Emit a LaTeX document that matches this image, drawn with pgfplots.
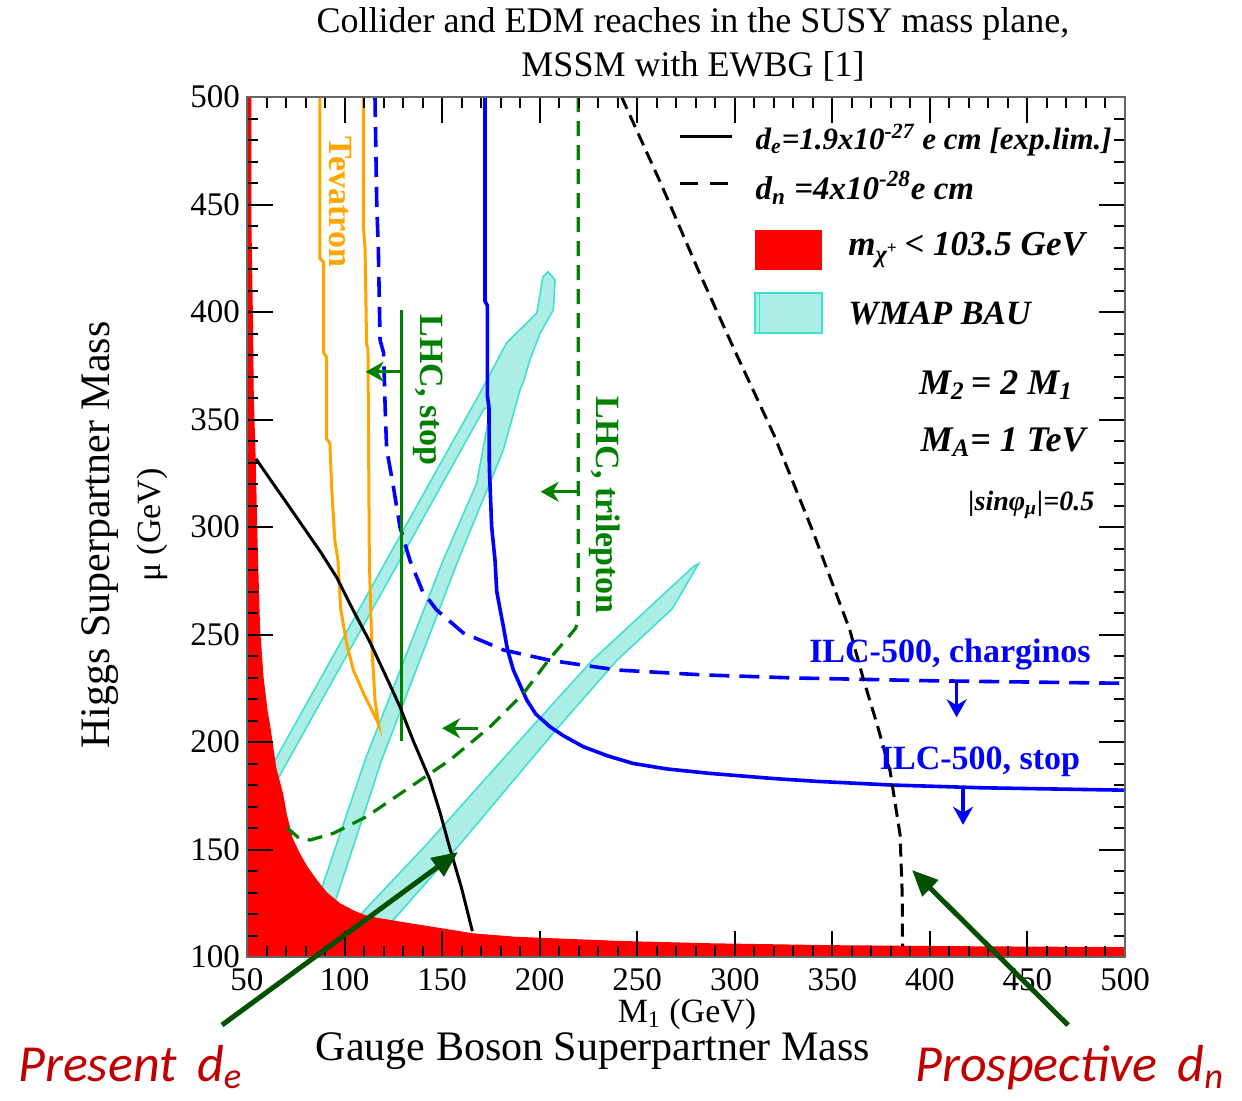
\documentclass[border=0pt]{standalone}
\usepackage{fontspec}
\setmainfont{Liberation Serif}
\newfontfamily\calibri{Carlito}
\usepackage{pgfplots}
\pgfplotsset{compat=1.18}
\usetikzlibrary{arrows.meta}

\definecolor{wmapfill}{RGB}{172,238,230}
\definecolor{wmapedge}{RGB}{64,224,208}
\definecolor{tevorange}{RGB}{255,165,0}
\definecolor{lhcgreen}{RGB}{0,128,0}
\definecolor{darkgreen}{RGB}{0,80,0}
\definecolor{txtred}{RGB}{192,0,0}
\definecolor{ilcblue}{RGB}{0,0,255}

\begin{document}
\begin{tikzpicture}
\path[use as bounding box] (-123.5pt,-71.5pt) rectangle (497.5pt,478.5pt);
\begin{axis}[
  at={(0pt,0pt)}, anchor=south west,
  scale only axis, width=439pt, height=430pt,
  xmin=50, xmax=500, ymin=100, ymax=500,
  xtick={50,100,...,500}, ytick={100,150,...,500},
  minor x tick num=4, minor y tick num=4,
  tick align=inside, major tick length=13pt, minor tick length=5.5pt,
  every tick/.style={black, line width=1pt},
  axis line style={draw=black!60, line width=1.2pt},
  ticklabel style={font=\fontsize{16.5}{18}\selectfont},
  xticklabel style={yshift=-2pt},
  /pgf/number format/assume math mode=true,
  axis on top=true,
  clip=false,
]
% WMAP BAU bands
\addplot[fill=wmapfill, draw=wmapedge, line width=0.8pt] coordinates {
 (51,170) (64.4,191.6) (121.6,284.7) (154,337.4) (169.4,362.3) (183,385.6) (198.5,399.5)
 (201.7,416.4) (204.3,418.7) (207.9,414.9) (207,401) (200.2,390) (195,377.7) (191.5,367)
 (190,364) (181.4,335.8) (158.3,284.7) (119,191.6) (96.6,129.6) (93,120) (84,120)
 (87.4,129.6) (110.5,191.6) (150.6,284.7) (167.7,320.3) (175,356) (171.5,355)
 (160.7,337.4) (128.4,284.7) (71.2,191.6) (58,170)} -- cycle;
\addplot[fill=wmapfill, draw=wmapedge, line width=0.8pt] coordinates {
 (104,116) (109.5,121) (142,152.3) (195,206) (227,238) (278.8,281.6) (281.5,283)
 (268,262) (239.6,238) (208.7,206) (159,152.3) (124.8,117) (118,112)} -- cycle;
% chargino mass exclusion
\addplot[fill=red, draw=none] coordinates {
 (50,100) (50,500) (52.3,500) (52.3,440) (53,400) (53.5,360) (54.5,330) (55.5,290)
 (56.7,253) (58.5,230) (60.5,215) (62,207) (65,188) (68.5,176) (70.5,166) (73.5,155)
 (77.2,148) (81,142) (85.7,136) (91,130) (97.7,125) (105,121.5) (112,119) (119.7,117.8)
 (135,115.5) (149,113.5) (166,111) (188,109.4) (240,107.5) (287,106.4) (350,105.5)
 (420,105) (500,104.6) (500,100)} -- cycle;
% Tevatron
\addplot[draw=tevorange, line width=1.5pt] coordinates {
 (87.4,500) (87.4,425) (89.3,423) (89.3,381) (90.8,379) (90.8,341) (92.5,339) (93.4,318)
 (95,294) (96.6,284.7) (98,262) (101,246) (104.5,233.5) (110,222) (116.5,210.2) (117.5,208)
 (115.6,219.5) (113.9,246) (112.7,284.7) (112,383) (111.3,385) (110.5,430) (109.6,440) (109.6,500)};
% ILC charginos (dashed blue)
\addplot[draw=ilcblue, line width=1.8pt, dash pattern=on 10pt off 5pt] coordinates {
 (115.6,500) (116.5,450) (117.3,430) (118.2,387) (120,381) (121,350) (121.6,336) (124.8,320)
 (128.4,300) (133.5,284.5) (140,270) (147.2,261.4) (160.9,250.7) (181.4,242.8) (205.3,238)
 (239.5,233.5) (283.9,231.2) (330,229.8) (400,228.5) (500,227.3)};
% ILC stop (solid blue)
\addplot[draw=ilcblue, line width=1.8pt] coordinates {
 (172,500) (172,405) (173.2,403) (173.2,361) (174,356) (174.2,328) (175.4,300) (177.1,284.7)
 (178,270) (181.4,253.6) (183.5,243) (186.5,233.5) (193.4,219.5) (198,213) (205.3,207.1)
 (212,203) (222.4,197.8) (235,193.5) (248,190) (265,187.5) (287.3,185.4) (320,183)
 (342,181.7) (380,180) (427,178.7) (500,177.6)};
% LHC trilepton (dashed green)
\addplot[draw=lhcgreen, line width=1.6pt, dash pattern=on 7.5pt off 4.5pt] coordinates {
 (219.8,500) (219.8,258) (218.5,253) (214,248) (205.3,239) (191.6,222.5) (174.5,207)
 (154,191.6) (131.9,178) (111.3,165.3) (94.2,157.5) (82.3,154.4) (76,155.8) (72,159) (69,161)};
% LHC stop (solid green)
\addplot[draw=lhcgreen, line width=1.5pt] coordinates {(129.3,401) (129.3,200.5)};
% d_e present limit
\addplot[draw=black, line width=1.5pt] coordinates {
 (54.6,331.7) (62,322) (72,309) (80,298.5) (88,288) (96,276.5) (104,262) (113,246.5) (121,231)
 (128.4,216.4) (135,201) (143.8,182.3) (149,167) (154,150.5) (160,132) (165.5,112)};
% d_n prospective
\addplot[draw=black, line width=1.5pt, dash pattern=on 6.5pt off 3.5pt] coordinates {
 (242,500) (262,460) (282,418) (300,382) (320,343) (340,298) (359,252) (366,229)
 (373,208) (379.6,186.5) (384.7,157) (385.8,130) (386,105)};
% small arrows
\draw[lhcgreen, line width=1.5pt, -{Stealth[length=9pt,width=10pt]}] (129.3,372.2) -- (110.8,372.2);
\draw[lhcgreen, line width=1.5pt, -{Stealth[length=9pt,width=10pt]}] (219.8,316.4) -- (200.5,316.4);
\draw[lhcgreen, line width=1.5pt, -{Stealth[length=9pt,width=10pt]}] (168.6,206.4) -- (150,206.4);
\draw[ilcblue, line width=1.8pt, -{Stealth[length=9pt,width=10pt]}] (413.7,228) -- (413.7,211.5);
\draw[ilcblue, line width=1.8pt, -{Stealth[length=9pt,width=10pt]}] (417,178.6) -- (417,161.5);
% curve labels
\node[rotate=-90, text=tevorange, font=\bfseries\fontsize{17}{17}\selectfont] at (97.7,451.2) {Tevatron};
\node[rotate=-90, text=lhcgreen, font=\bfseries\fontsize{17}{17}\selectfont] at (142.8,363.7) {LHC, stop};
\node[rotate=-90, text=lhcgreen, font=\bfseries\fontsize{17}{17}\selectfont] at (233.5,310.2) {LHC, trilepton};
\node[text=ilcblue, font=\bfseries\fontsize{17}{17}\selectfont] at (410.3,240.5) {ILC-500, charginos};
\node[text=ilcblue, font=\bfseries\fontsize{17}{17}\selectfont] at (425.7,190.7) {ILC-500, stop};
% legend
\draw[black, line width=1.5pt] (271.9,481.4) -- (298.6,481.4);
\node[anchor=west, inner sep=0pt, font=\bfseries\itshape\fontsize{15.5}{16}\selectfont] at (310.5,480)
  {d\textsubscript{e}=1.9x10\textsuperscript{-27} e cm [exp.lim.]};
\draw[black, line width=1.5pt, dash pattern=on 9pt off 6pt] (271.9,460) -- (298.6,460);
\node[anchor=west, inner sep=0pt, font=\bfseries\itshape\fontsize{16.5}{17}\selectfont] at (310.5,457.7)
  {d\textsubscript{n} =4x10\textsuperscript{-28}e cm};
\fill[red] (310.4,419.5) rectangle (344.7,438.1);
\node[anchor=west, inner sep=0pt, font=\bfseries\itshape\fontsize{17.5}{18}\selectfont] at (358,428.8)
  {m\textsubscript{χ\textsuperscript{+}}\,< 103.5 GeV};
\filldraw[fill=wmapfill, draw=wmapedge, line width=0.8pt] (310.4,390.2) rectangle (344.7,408.8);
\draw[wmapedge, line width=0.5pt] (312.8,390.2) -- (312.8,408.8);
\node[anchor=west, inner sep=0pt, font=\bfseries\itshape\fontsize{17}{18}\selectfont] at (358,399.5) {WMAP BAU};
\node[font=\bfseries\itshape\fontsize{18}{18}\selectfont] at (433.9,366) {M\textsubscript{2}\,= 2 M\textsubscript{1}};
\node[font=\bfseries\itshape\fontsize{18}{18}\selectfont] at (437.5,339.5) {M\textsubscript{A}= 1 TeV};
\node[font=\bfseries\itshape\fontsize{14}{14}\selectfont] at (452,310.2) {|sinφ\textsubscript{μ}|=0.5};
\end{axis}
% outer texts
\node[align=center, font=\fontsize{18}{22}\selectfont] at (223pt,456.5pt)
  {Collider and EDM reaches in the SUSY mass plane,\\ MSSM with EWBG [1]};
\node[rotate=90, font=\fontsize{21}{21}\selectfont] at (-73.5pt,211pt) {Higgs Superpartner Mass};
\node[rotate=90, font=\fontsize{17}{17}\selectfont] at (-47.5pt,216pt) {μ (GeV)};
\node[font=\fontsize{17}{17}\selectfont] at (220pt,-28.5pt) {M\textsubscript{1} (GeV)};
\node[font=\fontsize{21}{21}\selectfont] at (173pt,-47pt) {Gauge Boson Superpartner Mass};
\draw[darkgreen, line width=2.5pt, -{Triangle[length=13pt,width=11pt]}] (-12.5pt,-34pt) -- (105.5pt,52.5pt);
\draw[darkgreen, line width=2.5pt, -{Triangle[length=13pt,width=11pt]}] (410.5pt,-34pt) -- (332.5pt,43.5pt);
\node[anchor=base west, inner sep=0pt, text=txtred, font=\calibri\itshape\fontsize{26}{26}\selectfont] at (-114.5pt,-62pt) {Present\, d\textsubscript{e}};
\node[anchor=base west, inner sep=0pt, text=txtred, font=\calibri\itshape\fontsize{26}{26}\selectfont] at (334pt,-62pt) {Prospective\, d\textsubscript{n}};
\end{tikzpicture}
\end{document}
